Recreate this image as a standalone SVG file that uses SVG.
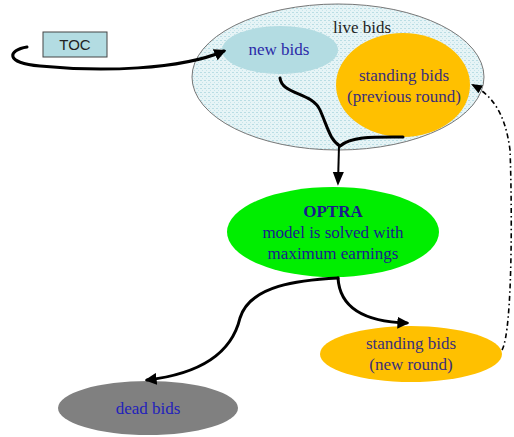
<svg xmlns="http://www.w3.org/2000/svg" width="514" height="437" viewBox="0 0 514 437">
<style>
.t{font-family:"Liberation Serif","Times New Roman",serif;font-size:17px;text-anchor:middle}
.c{fill:none;stroke:#000;stroke-width:3;stroke-linecap:round}
</style>
<defs>
<pattern id="dots" width="4" height="4" patternUnits="userSpaceOnUse">
<rect width="4" height="4" fill="#e6f4f6"/>
<rect x="0" y="0" width="2" height="1" fill="#b9dde4"/>
<rect x="2" y="2" width="1" height="1" fill="#c6e4ea"/>
</pattern>
<marker id="ah" viewBox="0 0 10 10" refX="8" refY="5" markerWidth="4" markerHeight="4" orient="auto" markerUnits="strokeWidth">
<path d="M0,0 L10,5 L0,10 Z" fill="#000"/>
</marker>
<marker id="ahs" viewBox="0 0 10 10" refX="8" refY="5" markerWidth="7" markerHeight="7" orient="auto" markerUnits="strokeWidth">
<path d="M0,1 L10,5 L0,9 Z" fill="#000"/>
</marker>
</defs>
<g id="live-bids">
<ellipse cx="338" cy="77" rx="146" ry="73" fill="url(#dots)" stroke="#777" stroke-width="1"/>
<text class="t" x="362" y="33" fill="#222">live bids</text>
</g>
<g id="new-bids">
<ellipse cx="280" cy="50" rx="58" ry="24" fill="#b3dce2"/>
<text class="t" x="279" y="55" fill="#2a2aa8">new bids</text>
</g>
<g id="standing-prev">
<ellipse cx="403" cy="85" rx="67" ry="52" fill="#ffc000"/>
<text class="t" x="404" y="81" fill="#3a2f7a">standing bids</text>
<text class="t" x="404" y="102" fill="#3a2f7a">(previous round)</text>
</g>
<g id="toc">
<rect x="43" y="32" width="64" height="25" fill="#b3dce2" stroke="#444" stroke-width="1"/>
<text x="75" y="50" text-anchor="middle" font-family="Liberation Sans, Arial, sans-serif" font-size="15" fill="#222">TOC</text>
</g>
<g id="optra">
<ellipse cx="333" cy="232" rx="106" ry="45" fill="#00ee00"/>
<text class="t" x="333" y="217" fill="#1a1a8c" font-weight="bold">OPTRA</text>
<text class="t" x="333" y="238" fill="#1a1a8c">model is solved with</text>
<text class="t" x="333" y="259" fill="#1a1a8c">maximum earnings</text>
</g>
<g id="dead-bids">
<ellipse cx="148" cy="408" rx="90" ry="27" fill="#808080"/>
<text class="t" x="148" y="414" fill="#2222bb">dead bids</text>
</g>
<g id="standing-new">
<ellipse cx="411" cy="354" rx="91" ry="28" fill="#ffc000"/>
<text class="t" x="411" y="349" fill="#3a2f7a">standing bids</text>
<text class="t" x="411" y="370" fill="#3a2f7a">(new round)</text>
</g>
<g id="connectors">
<path class="c" d="M27 47 C8 50 4 63 40 66 C100 72 180 70 224 51" marker-end="url(#ah)"/>
<path class="c" d="M280 78 C282 95 312 92 320 110 C328 128 330 140 340 146"/>
<path class="c" d="M403 137 C375 137 352 136 340 146"/>
<path fill="none" stroke="#000" stroke-width="2" d="M339 146 L338 183" marker-end="url(#ahs)"/>
<path class="c" d="M338 278 C300 280 250 285 240 318 C230 360 190 375 147 380" marker-end="url(#ah)"/>
<path class="c" d="M338 278 C340 312 372 322 407 323" marker-end="url(#ah)"/>
<path fill="none" stroke="#000" stroke-width="1.6" stroke-dasharray="5,3,1.5,3" d="M502 350 C513 330 512 200 510 150 C505 112 492 96 473 85" marker-end="url(#ahs)"/>
</g>
</svg>
